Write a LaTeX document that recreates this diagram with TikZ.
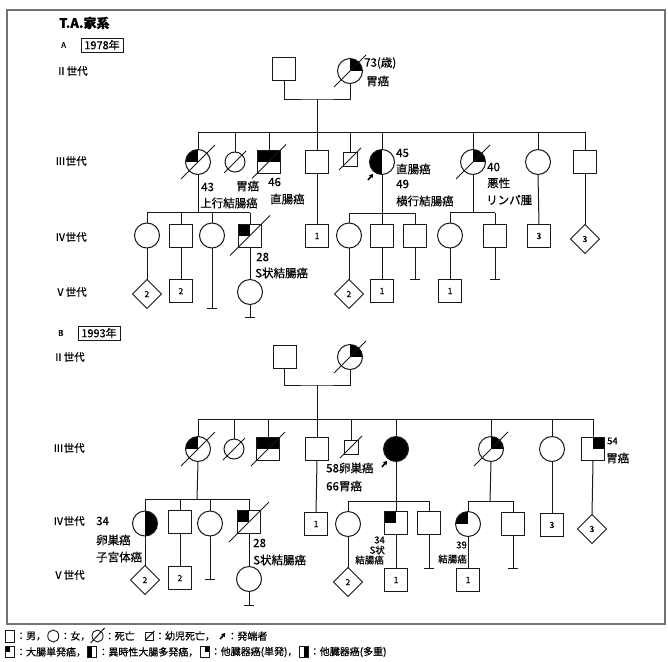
\documentclass[tikz,border=0pt]{standalone}
\usepackage{fontspec}
\setmainfont{Noto Sans CJK JP}[FakeBold=0.5]
\usetikzlibrary{shapes.geometric,arrows.meta}
\tikzset{
  pl/.style={line width=1pt, draw=black!90},
  ind/.style={draw=black!90, line width=1pt, inner sep=0pt, outer sep=0pt, font=\fontsize{8.5}{9}\selectfont},
  male/.style={ind, rectangle, minimum size=23pt},
  female/.style={ind, circle, minimum size=25pt},
  smale/.style={ind, rectangle, minimum size=14pt},
  sfemale/.style={ind, circle, minimum size=20pt},
  unk/.style={ind, diamond, minimum width=29pt, minimum height=29pt},
  ctl/.style={path picture={\fill[black] (path picture bounding box.center) rectangle (path picture bounding box.north west);}},
  ctr/.style={path picture={\fill[black] (path picture bounding box.center) rectangle (path picture bounding box.north east);}},
  clh/.style={path picture={\fill[black] (path picture bounding box.south west) rectangle (path picture bounding box.north);}},
  crh/.style={path picture={\fill[black] (path picture bounding box.south) rectangle (path picture bounding box.north east);}},
  cth/.style={path picture={\fill[black] (path picture bounding box.west) rectangle (path picture bounding box.north east);}},
  cfull/.style={fill=black},
  lbl/.style={anchor=west, inner sep=0pt, font=\fontsize{11.5}{12}\selectfont},
  lbls/.style={inner sep=0pt, font=\fontsize{9.5}{10}\selectfont},
  gen/.style={anchor=west, inner sep=0pt, font=\fontsize{10.5}{10}\selectfont},
  yearbox/.style={draw=black!90, line width=0.9pt, inner sep=0pt, minimum width=42pt, minimum height=14pt, font=\fontsize{11}{11}\selectfont},
  leg/.style={anchor=west, inner sep=0pt, font=\fontsize{10}{10}\selectfont},
  legsym/.style={draw=black!90, line width=0.9pt, inner sep=0pt, anchor=west},
  prob/.style={line width=1.6pt, -{Triangle[length=3.5pt,width=4.5pt]}},
}
\newcommand\deadmark[2]{\draw[pl] ([shift={(-#2,#2)}]#1.center) -- ([shift={(#2,-#2)}]#1.center);}
\newcommand\kid[2]{\draw[pl] (#1.north) -- (#1 |- #2);}
\newcommand\nooff[2]{\coordinate (#1t) at (#1 |- 0,#2); \draw[pl] (#1.south) -- (#1t); \draw[pl] ([xshift=-5pt]#1t) -- ([xshift=5pt]#1t);}
\newcommand\probmark[1]{\draw[prob] ([shift={(-14,18)}]#1.center) -- ([shift={(-9,12)}]#1.center);}
\begin{document}
\begin{tikzpicture}[x=1pt,y=-1pt]
\useasboundingbox (0,0) rectangle (668,661);
\fill[white] (0,0) rectangle (668,661);
\draw[line width=1.3pt, black!55] (7,10) rectangle (665,624);

% ================= A =================
\node[anchor=west, inner sep=0pt, font=\bfseries\fontsize{13}{13}\selectfont] (title) at (59,23) {T.A.家系};
\node[anchor=west, inner sep=0pt, font=\fontsize{8}{8}\selectfont] (lA) at (61,45) {A};
\node[yearbox] (yA) at (102,45) {1978年};
\node[gen] (gA2) at (56,71) {Ⅱ世代};
\node[gen] (gA3) at (55,161) {Ⅲ世代};
\node[gen] (gA4) at (55,237) {Ⅳ世代};
\node[gen] (gA5) at (55,292) {Ⅴ世代};

% Gen II
\node[male] (A2m) at (284,69) {};
\node[female, ctr] (A2f) at (350,71) {};
\deadmark{A2f}{16}
\node[lbl] (A2fl1) at (364,63) {73(歳)};
\node[lbl] (A2fl2) at (366,81) {胃癌};
\coordinate (A2j) at (317,99);
\coordinate (A3s) at (317,132);
\draw[pl] (A2m.south) |- (A2j) -| (A2f.south);
\draw[pl] (A2j) -- (A3s);

% Gen III
\node[female, ctl] (A3a) at (198,162) {};
\node[sfemale] (A3b) at (235,162) {};
\node[male, cth] (A3c) at (269,161.5) {};
\node[male] (A3d) at (317,161.5) {};
\node[smale] (A3e) at (350,159) {};
\node[female, clh] (A3f) at (382,162) {};
\node[female, ctr] (A3g) at (473,162) {};
\node[female] (A3h) at (538,162) {};
\node[male] (A3i) at (585,161.5) {};
\draw[pl] (A3a |- A3s) -- (A3i |- A3s);
\foreach \n in {A3a,A3b,A3c,A3d,A3e,A3f,A3g,A3h,A3i} {\kid{\n}{A3s}}
\deadmark{A3a}{17}
\deadmark{A3b}{11}
\deadmark{A3c}{17}
\deadmark{A3e}{11}
\deadmark{A3g}{17}
\probmark{A3f}
\node[lbl] (A3al1) at (201,187) {43};
\node[lbl] (A3al2) at (200,203) {上行結腸癌};
\node[lbl] (A3cl1) at (236,186) {胃癌};
\node[lbl] (A3cl2) at (268,182) {46};
\node[lbl] (A3cl3) at (270,199) {直腸癌};
\node[lbl] (A3fl1) at (396,153) {45};
\node[lbl] (A3fl2) at (396,169) {直腸癌};
\node[lbl] (A3fl3) at (396,184) {49};
\node[lbl] (A3fl4) at (396,201) {横行結腸癌};
\node[lbl] (A3gl1) at (487,167) {40};
\node[lbl] (A3gl2) at (487,183) {悪性};
\node[lbl] (A3gl3) at (486,200) {リンパ腫};

% Gen IV
\coordinate (A4s1) at (198,212.5);
\node[female] (A4a) at (147,235.5) {};
\node[male] (A4b) at (181,235.5) {};
\node[female] (A4c) at (212,235.5) {};
\node[male, ctl] (A4d) at (250,235.5) {};
\draw[pl] (A3a.south) -- (A4s1);
\draw[pl] (A4a |- A4s1) -- (A4d |- A4s1);
\foreach \n in {A4a,A4b,A4c,A4d} {\kid{\n}{A4s1}}
\deadmark{A4d}{20}
\node[lbl] (A4dl1) at (256,257) {28};
\node[lbl] (A4dl2) at (255,273) {S状結腸癌};

\node[male] (A4e) at (317,236) {1};
\draw[pl] (A3d.south) -- (A4e.north);

\coordinate (A4s2) at (382,213);
\node[female] (A4f) at (349,235.5) {};
\node[male] (A4g) at (382,235.5) {};
\node[male] (A4h) at (415,235.5) {};
\draw[pl] (A3f.south) -- (A4s2);
\draw[pl] (A4f |- A4s2) -- (A4h |- A4s2);
\foreach \n in {A4f,A4g,A4h} {\kid{\n}{A4s2}}

\coordinate (A4s3) at (473,212.5);
\node[female] (A4i) at (450,235.5) {};
\node[male] (A4j) at (495,235.5) {};
\draw[pl] (A3g.south) -- (A4s3);
\draw[pl] (A4i |- A4s3) -- (A4j |- A4s3);
\foreach \n in {A4i,A4j} {\kid{\n}{A4s3}}

\node[male] (A4k) at (539,236) {3};
\node[unk] (A4l) at (585,239) {3};
\draw[pl] (A3h.south) -- (A4k.north);
\draw[pl] (A3i.south) -- (A4l.north);

% Gen V
\node[unk] (A5a) at (147,294) {2};
\node[male] (A5b) at (181,291) {2};
\node[female] (A5d) at (250,292) {};
\node[unk] (A5f) at (349,294) {2};
\node[male] (A5g) at (382,291) {1};
\node[male] (A5i) at (450,291) {1};
\draw[pl] (A4a.south) -- (A5a.north);
\draw[pl] (A4b.south) -- (A5b.north);
\draw[pl] (A4d.south) -- (A5d.north);
\draw[pl] (A4f.south) -- (A5f.north);
\draw[pl] (A4g.south) -- (A5g.north);
\draw[pl] (A4i.south) -- (A5i.north);
\nooff{A4c}{308}
\nooff{A5d}{317}
\nooff{A4h}{279}
\nooff{A4j}{279}

% ================= B =================
\node[anchor=west, inner sep=0pt, font=\fontsize{8}{8}\selectfont] (lB) at (58,333) {B};
\node[yearbox] (yB) at (99,333) {1993年};
\node[gen] (gB2) at (53,357) {Ⅱ世代};
\node[gen] (gB3) at (53,448) {Ⅲ世代};
\node[gen] (gB4) at (53,521) {Ⅳ世代};
\node[gen] (gB5) at (53,575) {Ⅴ世代};

% Gen II
\node[male] (B2m) at (284.5,356.5) {};
\node[female, ctr] (B2f) at (350,357) {};
\deadmark{B2f}{16}
\coordinate (B2j) at (317,385);
\coordinate (B3s) at (317,419);
\draw[pl] (B2m.south) |- (B2j) -| (B2f.south);
\draw[pl] (B2j) -- (B3s);

% Gen III
\node[female, ctl] (B3a) at (198,449) {};
\node[sfemale] (B3b) at (234,449) {};
\node[male, cth] (B3c) at (268,449) {};
\node[male] (B3d) at (317,449) {};
\node[smale] (B3e) at (351,447) {};
\node[female, cfull] (B3f) at (396,449) {};
\node[female, ctr] (B3g) at (491,449) {};
\node[female] (B3h) at (552,449) {};
\node[male, ctr] (B3i) at (593,449) {};
\draw[pl] (B3a |- B3s) -- (B3i |- B3s);
\foreach \n in {B3a,B3b,B3c,B3d,B3e,B3f,B3g,B3h,B3i} {\kid{\n}{B3s}}
\deadmark{B3a}{17}
\deadmark{B3b}{11}
\deadmark{B3c}{17}
\deadmark{B3e}{11}
\deadmark{B3g}{17}
\probmark{B3f}
\node[lbl] (B3fl1) at (326,468) {58卵巣癌};
\node[lbl] (B3fl2) at (326,486) {66胃癌};
\node[lbls, anchor=west] (B3il1) at (607,441) {54};
\node[lbl] (B3il2) at (606,458) {胃癌};

% Gen IV
\coordinate (B4s1) at (197,499);
\node[female, crh] (B4a) at (145,523.5) {};
\node[male] (B4b) at (180,522) {};
\node[female] (B4c) at (210,523.5) {};
\node[male, ctl] (B4d) at (249,522) {};
\draw[pl] (B3a.south) -- (B4s1);
\draw[pl] (B4a |- B4s1) -- (B4d |- B4s1);
\foreach \n in {B4a,B4b,B4c,B4d} {\kid{\n}{B4s1}}
\deadmark{B4d}{20}
\node[lbl] (B4al1) at (96,521) {34};
\node[lbl] (B4al2) at (96,540) {卵巣癌};
\node[lbl] (B4al3) at (96,557) {子宮体癌};
\node[lbl] (B4dl1) at (253,543) {28};
\node[lbl] (B4dl2) at (253,560) {S状結腸癌};

\node[male] (B4e) at (316,524) {1};
\draw[pl] (B3d.south) -- (B4e.north);

\coordinate (B4s2) at (396,501);
\node[female] (B4f) at (348,524) {};
\node[male, ctl] (B4g) at (396,523) {};
\node[male] (B4h) at (429,523) {};
\draw[pl] (B3f.south) -- (B4s2);
\draw[pl] (B4f |- B4s2) -- (B4h |- B4s2);
\foreach \n in {B4f,B4g,B4h} {\kid{\n}{B4s2}}
\node[lbls, anchor=east] (B4gl1) at (385,540) {34};
\node[lbls, anchor=east] (B4gl2) at (385,550) {S状};
\node[lbls, anchor=east] (B4gl3) at (384,560) {結腸癌};

\coordinate (B4s3) at (490,501);
\node[female, ctl] (B4i) at (468,524) {};
\node[male] (B4j) at (513,524) {};
\draw[pl] (B3g.south) -- (B4s3);
\draw[pl] (B4i |- B4s3) -- (B4j |- B4s3);
\foreach \n in {B4i,B4j} {\kid{\n}{B4s3}}
\node[lbls, anchor=east] (B4il1) at (467,545) {39};
\node[lbls, anchor=east] (B4il2) at (467,559) {結腸癌};

\node[male] (B4k) at (552,525) {3};
\node[unk] (B4l) at (592,529) {3};
\draw[pl] (B3h.south) -- (B4k.north);
\draw[pl] (B3i.south) -- (B4l.north);

% Gen V
\node[unk] (B5a) at (145,580) {2};
\node[male] (B5b) at (180,578) {2};
\node[female] (B5d) at (249,579) {};
\node[unk] (B5f) at (348,582) {2};
\node[male] (B5g) at (396,580) {1};
\node[male] (B5i) at (468,580) {1};
\draw[pl] (B4a.south) -- (B5a.north);
\draw[pl] (B4b.south) -- (B5b.north);
\draw[pl] (B4d.south) -- (B5d.north);
\draw[pl] (B4f.south) -- (B5f.north);
\draw[pl] (B4g.south) -- (B5g.north);
\draw[pl] (B4i.south) -- (B5i.north);
\nooff{B4c}{579}
\nooff{B5d}{605}
\nooff{B4h}{568}
\nooff{B4j}{568}

% ================= Legend =================
\node[legsym, minimum width=9pt, minimum height=12pt] (Lm) at (5,636) {};
\node[leg] (Lmt) at ([xshift=1pt]Lm.east) {：男，};
\node[legsym, ellipse, minimum width=11pt, minimum height=12pt] (Lf) at ([xshift=1pt]Lmt.east) {};
\node[leg] (Lft) at ([xshift=1pt]Lf.east) {：女，};
\node[legsym, ellipse, minimum width=11pt, minimum height=12pt] (Ld) at ([xshift=1pt]Lft.east) {};
\draw[pl] ([shift={(-7,7)}]Ld.center) -- ([shift={(7,-8)}]Ld.center);
\node[leg] (Ldt) at ([xshift=1pt]Ld.east) {：死亡};
\node[legsym, minimum width=8pt, minimum height=8pt] (Li) at ([xshift=10pt]Ldt.east) {};
\draw[pl] ([shift={(-4,4)}]Li.center) -- ([shift={(5,-5)}]Li.center);
\node[leg] (Lit) at ([xshift=1pt]Li.east) {：幼児死亡，};
\coordinate (Lp) at ([xshift=5pt,yshift=-3pt]Lit.east);
\draw[prob] (Lp) -- ++(5,-6);
\node[leg] (Lpt) at ([xshift=12pt]Lit.east) {：発端者};

\node[legsym, minimum width=9pt, minimum height=11pt, ctl] (Lq1) at (5,652) {};
\node[leg] (Lq1t) at ([xshift=1pt]Lq1.east) {：大腸単発癌，};
\node[legsym, minimum width=9pt, minimum height=11pt, clh] (Lq2) at ([xshift=1pt]Lq1t.east) {};
\node[leg] (Lq2t) at ([xshift=1pt]Lq2.east) {：異時性大腸多発癌，};
\node[legsym, minimum width=9pt, minimum height=11pt, ctr] (Lq3) at ([xshift=1pt]Lq2t.east) {};
\node[leg] (Lq3t) at ([xshift=1pt]Lq3.east) {：他臓器癌(単発)，};
\node[legsym, minimum width=9pt, minimum height=11pt, crh] (Lq4) at ([xshift=1pt]Lq3t.east) {};
\node[leg] (Lq4t) at ([xshift=1pt]Lq4.east) {：他臓器癌(多重)};
\end{tikzpicture}
\end{document}
